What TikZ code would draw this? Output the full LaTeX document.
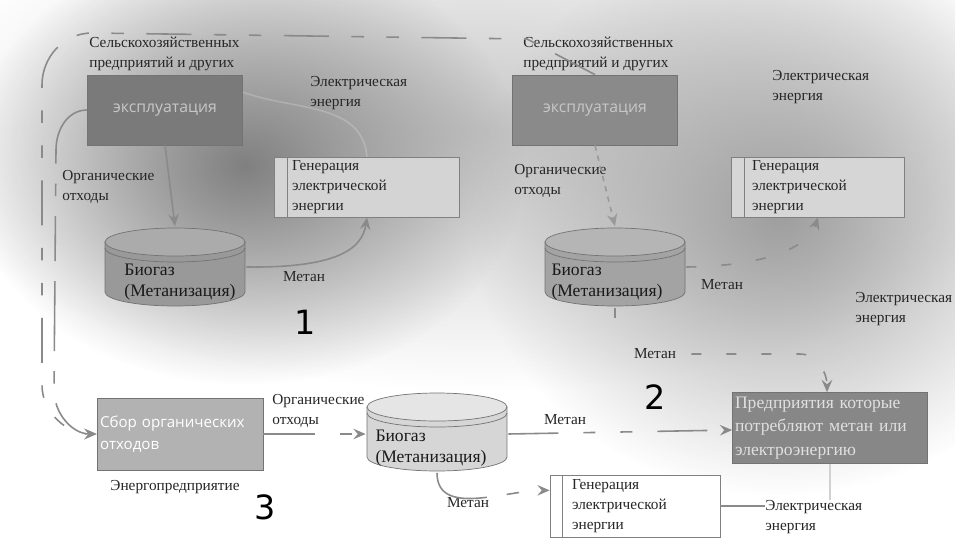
\documentclass[tikz,border=0pt]{standalone}
\usepackage{fontspec}
\setmainfont{Liberation Serif}
\newfontfamily\boxfont{Open Sans}
\newfontfamily\numfont{DejaVu Sans}
\usepackage{tikz}
\usetikzlibrary{positioning,calc,arrows.meta,fadings}

\definecolor{linegray}{HTML}{8A8A8A}
\tikzfading[name=blob, inner color=transparent!0, outer color=transparent!100]

\tikzset{
  lbl/.style={font=\rmfamily\fontsize{8.7}{11.3}\selectfont, align=left, inner sep=0pt, text=black!85},
  num/.style={font=\numfont\fontsize{19}{19}\selectfont, inner sep=0pt},
  opbox/.style={draw=black!55, fill=#1, minimum height=1.4cm, inner sep=0pt,
    font=\boxfont\fontsize{9}{11}\selectfont, text=black!22},
  genbox/.style={draw=black!50, fill=#1, minimum height=1.2cm, inner sep=0pt, align=left,
    font=\rmfamily\fontsize{8.7}{11.5}\selectfont, text=black!85,
    path picture={\draw[black!50] ([xshift=0.25cm]path picture bounding box.north west)
      -- ([xshift=0.25cm]path picture bounding box.south west);}},
  tank/.style 2 args={minimum width=2.84cm, minimum height=1.62cm, inner sep=0pt,
    path picture={
      \coordinate (c) at (path picture bounding box.center);
      \filldraw[draw=black!55, fill=#1] ([shift={(-1.4cm,0.5cm)}]c) -- ([shift={(-1.4cm,-0.5cm)}]c)
        arc[start angle=180, end angle=360, x radius=1.4cm, y radius=0.28cm] -- ([shift={(1.4cm,0.5cm)}]c) -- cycle;
      \filldraw[draw=black!55, fill=#2] ([yshift=0.5cm]c) ellipse[x radius=1.4cm, y radius=0.28cm];
      \draw[black!55] ([shift={(-1.4cm,0.38cm)}]c) arc[start angle=180, end angle=360, x radius=1.4cm, y radius=0.28cm];
    }},
  tanktext/.style={font=\rmfamily\fontsize{10}{12}\selectfont, align=left, inner sep=0pt, text=black!90},
  flow/.style={draw=linegray, line width=0.9pt},
  tip/.style={-{Stealth[length=7pt, width=6pt, inset=2.5pt]}},
  dashflow/.style={flow, dash pattern=on 0.9cm off 0.5cm on 0.25cm off 0.5cm},
  faint/.style={draw=white, opacity=0.2, line width=0.9pt},
}

\begin{document}
\begin{tikzpicture}[x=0.02cm, y=-0.02cm]
  \useasboundingbox (0,0) rectangle (955,544);

  % background clouds
  \fill[white] (0,0) rectangle (955,544);
  \fill[black!22, path fading=blob] (480,130) ellipse[x radius=11.4cm, y radius=5.2cm];
  \fill[black!50, path fading=blob] (245,165) ellipse[x radius=5.6cm, y radius=4.4cm];
  \fill[black!38, path fading=blob] (780,215) ellipse[x radius=6.2cm, y radius=5.6cm];

  % 1: farm with own plant
  \node[lbl, anchor=north west] (srcA) at (89,37) {Сельскохозяйственных\\предприятий и других};
  \node[opbox=black!52, minimum width=3.1cm] (opA) at (165,110) {эксплуатация};
  \node[lbl, anchor=north west] (orgA) at (62,170) {Органические\\отходы};
  \node[lbl, anchor=north west] (elA) at (310,76) {Электрическая\\энергия};
  \node[genbox=black!17, minimum width=3.7cm, text width=3.0cm] (genA) at (367,187)
    {Генерация\\электрической\\энергии};
  \node[tank={black!40}{black!33}] (tankA) at (175,267) {};
  \node[tanktext] (tankAtxt) at (180,282) {Биогаз\\(Метанизация)};
  \node[lbl] (metA) at (304,277) {Метан};
  \node[num] (numA) at (305,322) {1};

  \draw[flow, tip] (opA.south) -- (tankA.north);
  \draw[flow, tip] (tankA.east) .. controls (335,268) and (362,250) .. (genA.south);
  \draw[faint] (genA.north) to[out=95, in=-20] ([yshift=-0.35cm]opA.north east);

  % 2: farm selling methane and power
  \node[lbl, anchor=north west] (srcB) at (523,37) {Сельскохозяйственных\\предприятий и других};
  \node[opbox=black!46, minimum width=3.3cm] (opB) at (595,110) {эксплуатация};
  \node[lbl, anchor=north west] (orgB) at (514,164) {Органические\\отходы};
  \node[lbl, anchor=north west] (elB) at (772,70) {Электрическая\\энергия};
  \node[genbox=black!16, minimum width=3.46cm, text width=2.64cm] (genB) at (818,187)
    {Генерация\\электрической\\энергии};
  \node[tank={black!36}{black!29}] (tankB) at (615,267) {};
  \node[tanktext] (tankBtxt) at (607,282) {Биогаз\\(Метанизация)};
  \node[lbl] (metB) at (722,285) {Метан};
  \node[lbl, anchor=north west] (elB2) at (855,292) {Электрическая\\энергия};
  \node[lbl] (metB2) at (655,354) {Метан};
  \node[num] (numB) at (655,397) {2};
  \node[opbox=black!47, minimum width=3.9cm, minimum height=1.42cm, text width=3.8cm, align=left,
    font=\rmfamily\fontsize{10}{13.3}\selectfont, text=black!12] (cons) at (830,428)
    {Предприятия которые\\потребляют метан или\\электроэнергию};

  \draw[flow, dashed, black!40, tip] (opB.south) -- (tankB.north);
  \draw[dashflow, dash pattern=on 0.2cm off 0.5cm, tip] (tankB.east) .. controls (765,266) and (808,248) .. (genB.south);
  \coordinate (stubB) at (615,318);
  \draw[flow] (tankB.south) -- (stubB);
  \draw[dashflow, dash pattern=on 0.2cm off 0.5cm, tip] ([xshift=0.3cm]metB2.east) -- (800,354)
    to[out=0, in=90] ([xshift=-0.06cm]cons.north);

  % 3: energy company collecting waste
  \node[opbox=black!30, minimum width=3.32cm, minimum height=1.44cm, text width=3.2cm, align=left,
    font=\boxfont\fontsize{8.6}{12.5}\selectfont, text=white] (coll) at (180,434)
    {Сбор органических\\отходов};
  \node[lbl] (enterp) at (175,487) {Энергопредприятие};
  \node[num] (numC) at (265,507) {3};
  \node[lbl, anchor=north west] (orgC) at (272,394) {Органические\\отходы};
  \node[tank={black!16}{black!10}] (tankC) at (437,432) {};
  \node[tanktext] (tankCtxt) at (431,448) {Биогаз\\(Метанизация)};
  \node[lbl] (metC) at (565,420) {Метан};
  \node[lbl] (metC2) at (468,503) {Метан};
  \node[genbox=white, minimum width=3.4cm, minimum height=1.24cm, text width=2.52cm] (genC) at (635,506)
    {Генерация\\электрической\\энергии};
  \node[lbl, anchor=north west] (elC) at (765,500) {Электрическая\\энергия};

  \draw[flow, dash pattern=on 1.04cm off 0.5cm on 0.24cm off 0.3cm, tip] (coll.east) -- (tankC.west |- coll.east);
  \draw[flow, dash pattern=on 1cm off 0.5cm on 0.24cm off 0.5cm on 0.24cm off 0.5cm, tip]
    ([yshift=-0.04cm]tankC.east) -- ([yshift=-0.04cm]cons.west);
  \draw[flow, dash pattern=on 1.3cm off 0.4cm on 0.25cm off 0.5cm, tip]
    (tankC.south) to[out=-90, in=180] ($(genC.north west)!0.25!(genC.south west)$);
  \draw[flow] (genC.east) -- (genC.east -| elC.west);
  \draw[draw=black!18, line width=0.8pt] (elC.north -| cons.south) -- (cons.south);

  % waste routes to the collector
  \draw[flow, dash pattern=on 0.9cm off 0.45cm on 0.25cm off 0.45cm on 0.25cm off 0.45cm, tip]
    (opB.north) -- (527,39) -- (92,33) to[out=180, in=90] (42,85) -- (42,385)
    to[out=-90, in=180] (coll.west);
  \draw[flow, dash pattern=on 1.4cm off 0.4cm on 0.25cm off 0.4cm on 0.9cm off 0.4cm, tip]
    (opA.west) to[out=180, in=90] (56,150) -- (54,390) to[out=-90, in=180] (coll.west);
\end{tikzpicture}
\end{document}
